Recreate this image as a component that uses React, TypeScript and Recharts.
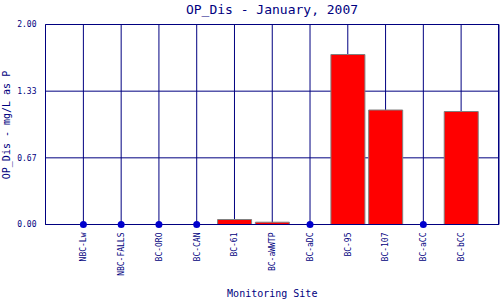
import {
  ComposedChart,
  Bar,
  Line,
  XAxis,
  YAxis,
  CartesianGrid,
  Label,
} from "recharts";

const sites = [
  "NBC-Lw",
  "NBC-FALLS",
  "BC-ORO",
  "BC-CAN",
  "BC-61",
  "BC-aWWTP",
  "BC-aDC",
  "BC-95",
  "BC-107",
  "BC-aCC",
  "BC-bCC",
];
const opDis = [null, null, null, null, 0.05, 0.023, null, 1.7, 1.145, null, 1.13];
const nonDetect = [0, 0, 0, 0, null, null, 0, null, null, 0, null];
const yTicks = [0, 2 / 3, 4 / 3, 2];

const data = sites.map((site, i) => ({
  site,
  value: opDis[i],
  nd: nonDetect[i],
}));

const NAVY = "#000080";
const MONO = "'DejaVu Sans Mono', 'Liberation Mono', monospace";

const SiteTick = (props: any) => {
  const { x, y, payload } = props;
  return (
    <text
      x={x}
      y={y}
      transform={`rotate(-90 ${x} ${y})`}
      textAnchor="end"
      dy="0.35em"
      fontFamily={MONO}
      fontSize={8}
      fill={NAVY}
    >
      {payload.value}
    </text>
  );
};

const XTitle = (props: any) => {
  const { viewBox } = props;
  const cx = viewBox.x + viewBox.width / 2;
  return (
    <text x={cx} y={297} textAnchor="middle" fontFamily={MONO} fontSize={10} fill={NAVY}>
      Monitoring Site
    </text>
  );
};

const YTitle = () => (
  <text
    x={10}
    y={125}
    transform="rotate(-90 10 125)"
    textAnchor="middle"
    fontFamily={MONO}
    fontSize={10}
    fill={NAVY}
  >
    OP_Dis - mg/L as P
  </text>
);

export default function App() {
  return (
    <div style={{ position: "fixed", left: 0, top: 0, width: 500, height: 300, background: "#fff" }}>
      <div
        style={{
          position: "absolute",
          left: 0,
          top: 2,
          width: 544,
          textAlign: "center",
          fontFamily: MONO,
          fontSize: 13,
          color: NAVY,
          lineHeight: "16px",
        }}
      >
        OP_Dis - January, 2007
      </div>
      <ComposedChart
        width={500}
        height={300}
        data={data}
        margin={{ top: 24.5, right: 1, left: 0.5, bottom: 0 }}
      >
        <CartesianGrid stroke={NAVY} strokeWidth={1} />
        <XAxis
          dataKey="site"
          padding={{ left: 19, right: 19 }}
          height={75.5}
          interval={0}
          tick={<SiteTick />}
          tickLine={false}
          axisLine={{ stroke: NAVY }}
        >
          <Label content={<XTitle />} />
        </XAxis>
        <YAxis
          width={45}
          domain={[0, 2]}
          ticks={yTicks}
          tickFormatter={(v: number) => v.toFixed(2)}
          tickLine={false}
          tickMargin={3}
          axisLine={{ stroke: NAVY }}
          tick={{ fill: NAVY, fontFamily: MONO, fontSize: 8 }}
        >
          <Label content={<YTitle />} />
        </YAxis>
        <Bar
          dataKey="value"
          barSize={34}
          fill="#ff0000"
          stroke="#808080"
          strokeWidth={1}
          isAnimationActive={false}
        />
        <Line
          dataKey="nd"
          stroke="none"
          dot={{ r: 3.5, fill: "#0000cc", stroke: "none" }}
          activeDot={false}
          isAnimationActive={false}
        />
      </ComposedChart>
      <div
        style={{
          position: "absolute",
          left: 498,
          top: 24,
          width: 1,
          height: 201,
          background: NAVY,
        }}
      />
    </div>
  );
}
